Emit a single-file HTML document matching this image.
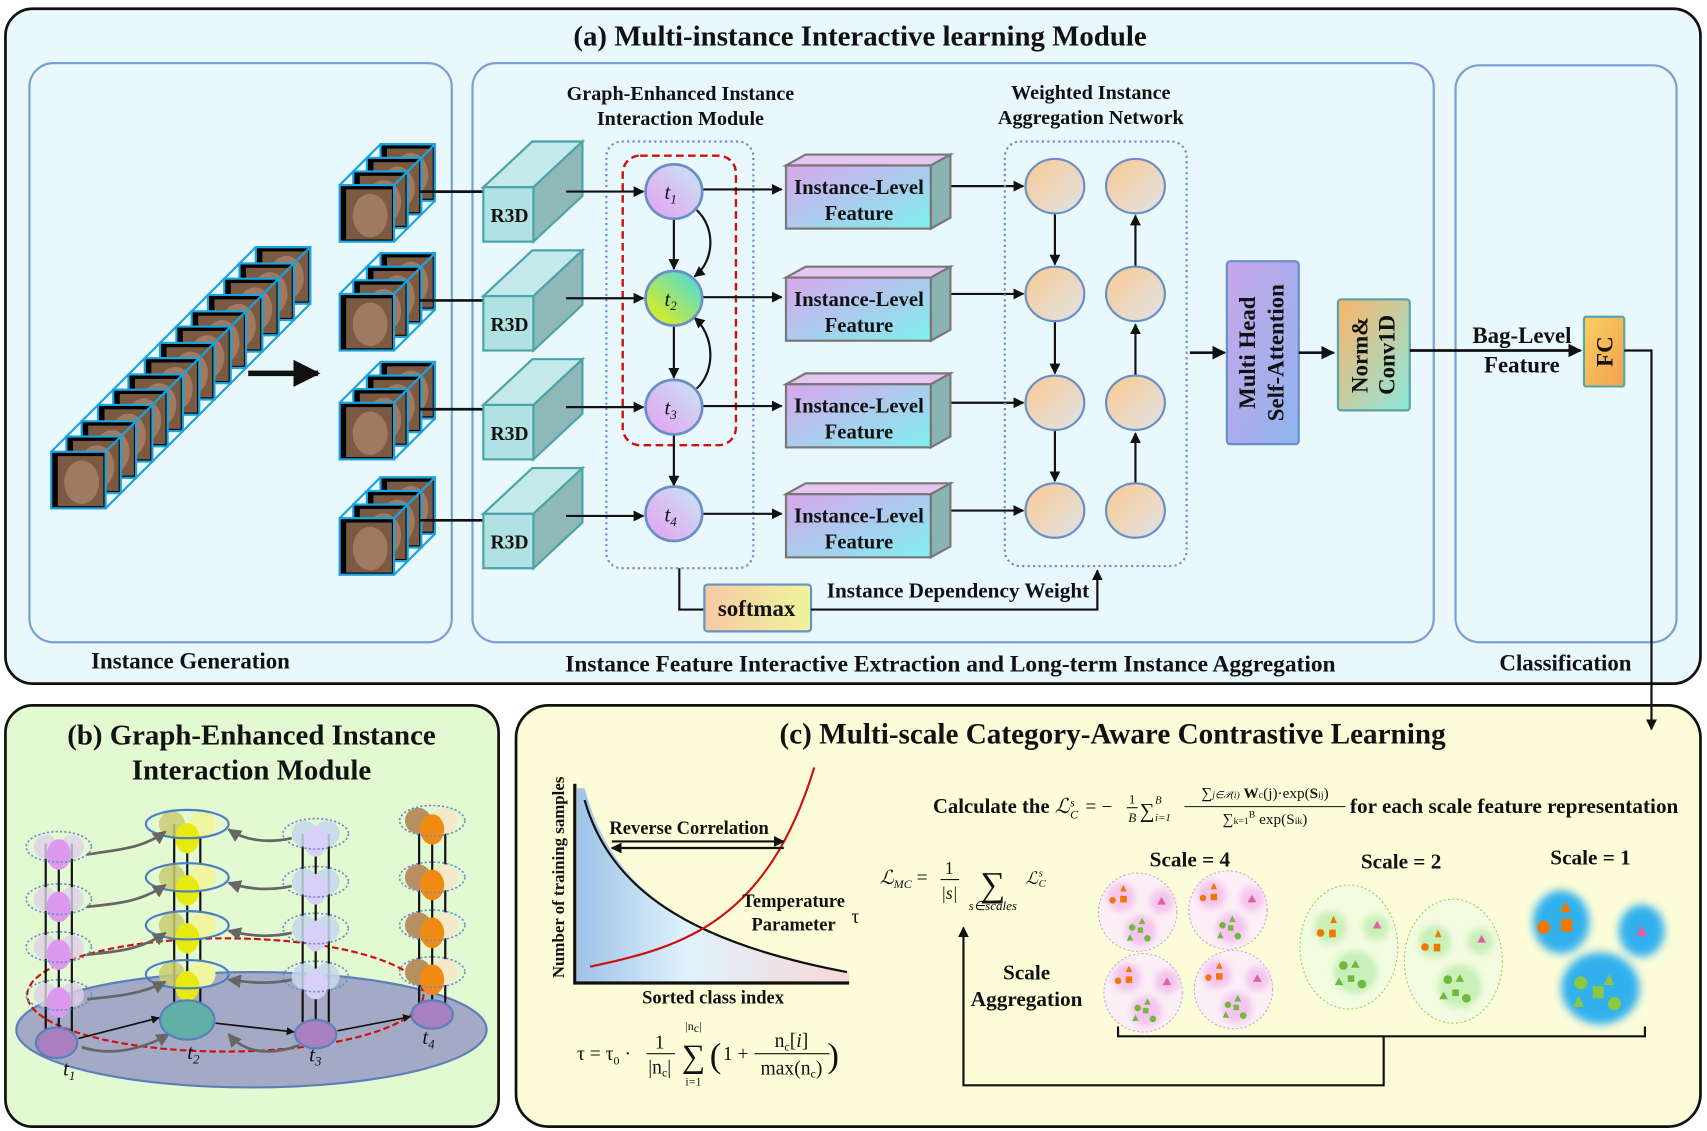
<!DOCTYPE html>
<html><head><meta charset="utf-8"><style>
html,body{margin:0;padding:0;background:#fff}
svg{display:block}
text{font-family:"Liberation Serif",serif;font-weight:bold;fill:#111}
.it{font-style:italic;font-weight:normal}
.n{font-weight:normal}
</style></head><body>
<svg width="1707" height="1131" viewBox="0 0 1568 1039" preserveAspectRatio="none" xmlns="http://www.w3.org/2000/svg">
<defs>
<marker id="ar" viewBox="0 0 10 10" refX="9" refY="5" markerWidth="5" markerHeight="5" orient="auto"><path d="M0,0 L10,5 L0,10z" fill="#111"/></marker>
<marker id="arg" viewBox="0 0 10 10" refX="9" refY="5" markerWidth="5" markerHeight="5" orient="auto"><path d="M0,0 L10,5 L0,10z" fill="#666"/></marker>
<linearGradient id="gnode" x1="0" y1="1" x2="1" y2="0"><stop offset="0" stop-color="#e59ff0"/><stop offset="1" stop-color="#c8e6f5"/></linearGradient>
<linearGradient id="gnode2" x1="0" y1="1" x2="1" y2="0"><stop offset="0" stop-color="#f0f000"/><stop offset="1" stop-color="#40d8f0"/></linearGradient>
<linearGradient id="gfeat" x1="0" y1="0" x2="1" y2="1"><stop offset="0" stop-color="#d9a6ec"/><stop offset="1" stop-color="#7ff0f0"/></linearGradient>
<linearGradient id="gcirc" x1="0" y1="0" x2="1" y2="1"><stop offset="0" stop-color="#fbc98f"/><stop offset="1" stop-color="#dfe3e8"/></linearGradient>
<linearGradient id="gmh" x1="0" y1="0" x2="1" y2="1"><stop offset="0" stop-color="#c9a6ea"/><stop offset="1" stop-color="#8fb4ee"/></linearGradient>
<linearGradient id="gnorm" x1="0" y1="0" x2="1" y2="1"><stop offset="0" stop-color="#fbb36a"/><stop offset="1" stop-color="#8ce8dc"/></linearGradient>
<linearGradient id="gfc" x1="0" y1="0" x2="1" y2="1"><stop offset="0" stop-color="#f8d060"/><stop offset="1" stop-color="#f5a050"/></linearGradient>
<linearGradient id="gsm" x1="0" y1="0" x2="1" y2="0"><stop offset="0" stop-color="#f7c9a5"/><stop offset="1" stop-color="#eef59a"/></linearGradient>
<linearGradient id="gchart" x1="0" y1="0" x2="1" y2="0"><stop offset="0" stop-color="#9ec2e8"/><stop offset="0.4" stop-color="#dff2fb"/><stop offset="1" stop-color="#f7d8d8"/></linearGradient>
<filter id="bl" x="-50%" y="-50%" width="200%" height="200%"><feGaussianBlur stdDeviation="4"/></filter>
<filter id="bl2" x="-50%" y="-50%" width="200%" height="200%"><feGaussianBlur stdDeviation="3"/></filter>
<g id="frame"><rect width="50" height="52" fill="#000" stroke="#1aa3e0" stroke-width="2"/><rect x="6" y="4" width="42" height="46" fill="#7a5a42"/><ellipse cx="28" cy="28" rx="16" ry="20" fill="#a07a60"/></g>
<g id="cs">
<use href="#frame" x="37.5" y="-37.5"/><use href="#frame" x="25" y="-25"/><use href="#frame" x="12.5" y="-12.5"/><use href="#frame" x="0" y="0"/>
<path d="M0,0 L37.5,-37.5 L87.5,-37.5 L87.5,14.5 L50,52 M50,0 L87.5,-37.5" fill="none" stroke="#1aa3e0" stroke-width="2"/>
</g>
<g id="r3d">
<path d="M444,172 L489,130 L535,130 L490,172z" fill="#c3e9ea" stroke="#4aa3a8" stroke-width="2"/>
<path d="M490,172 L535,130 L535,180 L490,222z" fill="#8fb8b8" stroke="#4aa3a8" stroke-width="2"/>
<rect x="444" y="172" width="46" height="50" fill="#b0e2e4" stroke="#4aa3a8" stroke-width="2"/>
<text x="468" y="204" font-size="18" text-anchor="middle">R3D</text>
</g>
<g id="feat">
<path d="M722,152 L740,142 L873,142 L855,152z" fill="#e6c6f0" stroke="#777" stroke-width="2"/>
<path d="M855,152 L873,142 L873,200 L855,210z" fill="#8ab4b4" stroke="#777" stroke-width="2"/>
<rect x="722" y="152" width="133" height="58" fill="url(#gfeat)" stroke="#777" stroke-width="2"/>
<text x="789" y="178" font-size="19" text-anchor="middle">Instance-Level</text>
<text x="789" y="202" font-size="19" text-anchor="middle">Feature</text>
</g>
</defs>

<!-- Panel a -->
<rect x="5" y="8" width="1557" height="620" rx="25" fill="#e8f8fc" stroke="#111" stroke-width="2.5"/>
<text x="790" y="42" font-size="26.5" text-anchor="middle">(a) Multi-instance Interactive learning Module</text>
<rect x="27" y="58" width="388" height="532" rx="22" fill="none" stroke="#7a9fd0" stroke-width="2"/>
<rect x="434" y="58" width="883" height="532" rx="22" fill="none" stroke="#7a9fd0" stroke-width="2"/>
<rect x="1337" y="60" width="203" height="530" rx="22" fill="none" stroke="#7a9fd0" stroke-width="2"/>
<text x="175" y="614" font-size="21" text-anchor="middle">Instance Generation</text>
<text x="873" y="617" font-size="21.5" text-anchor="middle">Instance Feature Interactive Extraction and Long-term Instance Aggregation</text>
<text x="1438" y="616" font-size="21" text-anchor="middle">Classification</text>

<!-- long stack -->
<g>
<use href="#frame" x="235" y="227"/><use href="#frame" x="220" y="242"/><use href="#frame" x="206" y="256"/><use href="#frame" x="191" y="271"/><use href="#frame" x="176" y="286"/><use href="#frame" x="162" y="300"/><use href="#frame" x="147" y="315"/><use href="#frame" x="133" y="329"/><use href="#frame" x="118" y="344"/><use href="#frame" x="104" y="358"/><use href="#frame" x="90" y="372"/><use href="#frame" x="75" y="387"/><use href="#frame" x="61" y="401"/><use href="#frame" x="47" y="415"/>
<path d="M47,415 L235,227 L285,227 L285,279 L97,467 M97,415 L285,227" fill="none" stroke="#1aa3e0" stroke-width="2"/>
</g>
<line x1="228" y1="343" x2="292" y2="343" stroke="#111" stroke-width="5" marker-end="url(#ar)"/>

<!-- small stacks -->
<use href="#cs" x="312" y="170"/>
<use href="#cs" x="312" y="270"/>
<use href="#cs" x="312" y="370"/>
<use href="#cs" x="312" y="476"/>
<g stroke="#111" stroke-width="2.5">
<line x1="385" y1="176" x2="444" y2="176"/><line x1="385" y1="276" x2="444" y2="276"/><line x1="385" y1="376" x2="444" y2="376"/><line x1="385" y1="478" x2="444" y2="478"/>
</g>
<use href="#r3d"/><use href="#r3d" y="100"/><use href="#r3d" y="200"/><use href="#r3d" y="300"/>

<text x="625" y="92" font-size="18.5" text-anchor="middle">Graph-Enhanced Instance</text>
<text x="625" y="115" font-size="18.5" text-anchor="middle">Interaction Module</text>
<text x="1002" y="91" font-size="18.5" text-anchor="middle">Weighted Instance</text>
<text x="1002" y="114" font-size="18.5" text-anchor="middle">Aggregation Network</text>

<rect x="557" y="130" width="135" height="392" rx="14" fill="none" stroke="#6a8fc8" stroke-width="2" stroke-dasharray="2,3"/>
<rect x="572" y="143" width="104" height="266" rx="16" fill="none" stroke="#cc1111" stroke-width="2.2" stroke-dasharray="7,4"/>

<g stroke="#111" stroke-width="2" fill="none">
<line x1="520" y1="176" x2="591" y2="176" marker-end="url(#ar)"/>
<line x1="520" y1="274" x2="591" y2="274" marker-end="url(#ar)"/>
<line x1="520" y1="374" x2="591" y2="374" marker-end="url(#ar)"/>
<line x1="520" y1="474" x2="591" y2="474" marker-end="url(#ar)"/>
<line x1="619" y1="200" x2="619" y2="247" marker-end="url(#ar)"/>
<line x1="619" y1="298" x2="619" y2="347" marker-end="url(#ar)"/>
<line x1="619" y1="398" x2="619" y2="446" marker-end="url(#ar)"/>
<path d="M640,193 C658,210 656,240 638,254" marker-end="url(#ar)"/>
<path d="M640,357 C658,340 656,308 638,292" marker-end="url(#ar)"/>
<line x1="645" y1="174" x2="718" y2="174" marker-end="url(#ar)"/>
<line x1="645" y1="273" x2="718" y2="273" marker-end="url(#ar)"/>
<line x1="645" y1="373" x2="718" y2="373" marker-end="url(#ar)"/>
<line x1="645" y1="472" x2="718" y2="472" marker-end="url(#ar)"/>
<line x1="873" y1="171" x2="940" y2="171" marker-end="url(#ar)"/>
<line x1="873" y1="270" x2="940" y2="270" marker-end="url(#ar)"/>
<line x1="873" y1="370" x2="940" y2="370" marker-end="url(#ar)"/>
<line x1="873" y1="469" x2="940" y2="469" marker-end="url(#ar)"/>
</g>
<g stroke="#6a8fc8" stroke-width="2.5">
<ellipse cx="619" cy="176" rx="26" ry="25" fill="url(#gnode)"/>
<ellipse cx="619" cy="274" rx="26" ry="25" fill="url(#gnode2)"/>
<ellipse cx="619" cy="374" rx="26" ry="25" fill="url(#gnode)"/>
<ellipse cx="619" cy="472" rx="26" ry="25" fill="url(#gnode)"/>
</g>
<g font-size="19" text-anchor="middle">
<text x="616" y="183" class="it">t<tspan font-size="12" dy="4">1</tspan></text>
<text x="616" y="281" class="it">t<tspan font-size="12" dy="4">2</tspan></text>
<text x="616" y="381" class="it">t<tspan font-size="12" dy="4">3</tspan></text>
<text x="616" y="479" class="it">t<tspan font-size="12" dy="4">4</tspan></text>
</g>
<use href="#feat"/><use href="#feat" y="103"/><use href="#feat" y="201"/><use href="#feat" y="302"/>

<rect x="923" y="130" width="167" height="390" rx="14" fill="none" stroke="#6a8fc8" stroke-width="2" stroke-dasharray="2,3"/>
<g stroke="#111" stroke-width="2">
<line x1="969" y1="196" x2="969" y2="243" marker-end="url(#ar)"/>
<line x1="969" y1="295" x2="969" y2="343" marker-end="url(#ar)"/>
<line x1="969" y1="395" x2="969" y2="442" marker-end="url(#ar)"/>
<line x1="1043" y1="444" x2="1043" y2="398" marker-end="url(#ar)"/>
<line x1="1043" y1="345" x2="1043" y2="298" marker-end="url(#ar)"/>
<line x1="1043" y1="245" x2="1043" y2="198" marker-end="url(#ar)"/>
</g>
<g stroke="#6a8fc8" stroke-width="2" fill="url(#gcirc)">
<ellipse cx="969" cy="171" rx="27" ry="25"/><ellipse cx="969" cy="270" rx="27" ry="25"/><ellipse cx="969" cy="370" rx="27" ry="25"/><ellipse cx="969" cy="469" rx="27" ry="25"/>
<ellipse cx="1043" cy="171" rx="27" ry="25"/><ellipse cx="1043" cy="270" rx="27" ry="25"/><ellipse cx="1043" cy="370" rx="27" ry="25"/><ellipse cx="1043" cy="469" rx="27" ry="25"/>
</g>

<line x1="1093" y1="324" x2="1125" y2="324" stroke="#111" stroke-width="2.5" marker-end="url(#ar)"/>
<rect x="1127" y="240" width="66" height="168" rx="3" fill="url(#gmh)" stroke="#6a8fc8" stroke-width="2"/>
<text transform="translate(1153,324) rotate(-90)" font-size="21" text-anchor="middle">Multi Head</text>
<text transform="translate(1179,324) rotate(-90)" font-size="21" text-anchor="middle">Self-Attention</text>
<line x1="1193" y1="324" x2="1225" y2="324" stroke="#111" stroke-width="2.5" marker-end="url(#ar)"/>
<rect x="1229" y="275" width="66" height="102" rx="3" fill="url(#gnorm)" stroke="#5aa3a8" stroke-width="2"/>
<text transform="translate(1256,326) rotate(-90)" font-size="21" text-anchor="middle">Norm&amp;</text>
<text transform="translate(1281,326) rotate(-90)" font-size="21" text-anchor="middle">Conv1D</text>
<line x1="1295" y1="322" x2="1452" y2="322" stroke="#111" stroke-width="2.5" marker-end="url(#ar)"/>
<text x="1398" y="315" font-size="21" text-anchor="middle">Bag-Level</text>
<text x="1398" y="342" font-size="21" text-anchor="middle">Feature</text>
<rect x="1455" y="291" width="37" height="64" rx="2" fill="url(#gfc)" stroke="#5aa3a8" stroke-width="2"/>
<text transform="translate(1481,323) rotate(-90)" font-size="21" text-anchor="middle">FC</text>

<polyline points="624,522 624,560 647,560" fill="none" stroke="#111" stroke-width="2"/>
<rect x="647" y="537" width="98" height="43" rx="3" fill="url(#gsm)" stroke="#6a8fc8" stroke-width="2"/>
<text x="695" y="566" font-size="21" text-anchor="middle">softmax</text>
<polyline points="745,560 1008,560 1008,524" fill="none" stroke="#111" stroke-width="2" marker-end="url(#ar)"/>
<text x="880" y="549" font-size="19.5" text-anchor="middle">Instance Dependency Weight</text>

<!-- Panel b -->
<rect x="5" y="648" width="453" height="387" rx="25" fill="#e2f9d2" stroke="#111" stroke-width="2.5"/>
<text x="231" y="684" font-size="26.5" text-anchor="middle">(b) Graph-Enhanced Instance</text>
<text x="231" y="716" font-size="26.5" text-anchor="middle">Interaction Module</text>
<ellipse cx="231" cy="946" rx="216" ry="53" fill="#a4aac6" stroke="#5b7fb8" stroke-width="2"/>
<ellipse cx="207" cy="914" rx="182" ry="52" fill="none" stroke="#cc1111" stroke-width="2" stroke-dasharray="6,3"/>
<g stroke="#111" stroke-width="2">
<line x1="42" y1="775" x2="42" y2="955"/><line x1="54" y1="775" x2="54" y2="955"/><line x1="66" y1="775" x2="66" y2="955"/>
<line x1="160" y1="757" x2="160" y2="935"/><line x1="172" y1="757" x2="172" y2="935"/><line x1="184" y1="757" x2="184" y2="935"/>
<line x1="278" y1="766" x2="278" y2="948"/><line x1="290" y1="766" x2="290" y2="948"/><line x1="302" y1="766" x2="302" y2="948"/>
<line x1="385" y1="752" x2="385" y2="930"/><line x1="397" y1="752" x2="397" y2="930"/><line x1="409" y1="752" x2="409" y2="930"/>
</g>
<g>
<g fill="#e0d0e8" opacity="0.8"><circle cx="42" cy="778" r="11"/><circle cx="66" cy="778" r="11"/><circle cx="42" cy="826" r="11"/><circle cx="66" cy="826" r="11"/><circle cx="42" cy="870" r="11"/><circle cx="66" cy="870" r="11"/><circle cx="42" cy="914" r="11"/><circle cx="66" cy="914" r="11"/></g>
<g fill="#dd99ee"><ellipse cx="54" cy="785" rx="11" ry="14"/><ellipse cx="54" cy="833" rx="11" ry="14"/><ellipse cx="54" cy="877" rx="11" ry="14"/><ellipse cx="54" cy="921" rx="11" ry="14"/></g>
<g fill="none" stroke="#6a8fc8" stroke-width="1.5" stroke-dasharray="2,2"><ellipse cx="54" cy="778" rx="30" ry="14"/><ellipse cx="54" cy="826" rx="30" ry="14"/><ellipse cx="54" cy="870" rx="30" ry="14"/><ellipse cx="54" cy="914" rx="30" ry="14"/></g>
</g>
<g>
<g fill="#c9cc70" opacity="0.85"><circle cx="158" cy="757" r="12"/><circle cx="158" cy="806" r="12"/><circle cx="158" cy="850" r="12"/><circle cx="158" cy="895" r="12"/></g>
<g fill="#f0f5a0"><circle cx="186" cy="757" r="12"/><circle cx="186" cy="806" r="12"/><circle cx="186" cy="850" r="12"/><circle cx="186" cy="895" r="12"/></g>
<g fill="#e6ea10"><ellipse cx="172" cy="770" rx="11" ry="14"/><ellipse cx="172" cy="818" rx="11" ry="14"/><ellipse cx="172" cy="862" rx="11" ry="14"/><ellipse cx="172" cy="906" rx="11" ry="14"/></g>
<g fill="none" stroke="#4a7fc0" stroke-width="2"><ellipse cx="172" cy="757" rx="38" ry="13"/><ellipse cx="172" cy="806" rx="38" ry="13"/><ellipse cx="172" cy="850" rx="38" ry="13"/><ellipse cx="172" cy="895" rx="38" ry="13"/></g>
</g>
<g>
<g fill="#c8d8ee" opacity="0.85"><circle cx="280" cy="766" r="12"/><circle cx="300" cy="766" r="12"/><circle cx="280" cy="810" r="12"/><circle cx="300" cy="810" r="12"/><circle cx="280" cy="853" r="12"/><circle cx="300" cy="853" r="12"/><circle cx="280" cy="897" r="12"/><circle cx="300" cy="897" r="12"/></g>
<g fill="#d8d0f8"><ellipse cx="290" cy="773" rx="11" ry="14"/><ellipse cx="290" cy="817" rx="11" ry="14"/><ellipse cx="290" cy="860" rx="11" ry="14"/><ellipse cx="290" cy="904" rx="11" ry="14"/></g>
<g fill="none" stroke="#6a8fc8" stroke-width="1.5" stroke-dasharray="2,2"><ellipse cx="290" cy="766" rx="30" ry="14"/><ellipse cx="290" cy="810" rx="30" ry="14"/><ellipse cx="290" cy="853" rx="30" ry="14"/><ellipse cx="290" cy="897" rx="30" ry="14"/></g>
</g>
<g>
<g fill="#b89060"><circle cx="384" cy="754" r="12"/><circle cx="384" cy="806" r="12"/><circle cx="384" cy="850" r="12"/><circle cx="384" cy="893" r="12"/></g>
<g fill="#f5e8c8"><circle cx="408" cy="754" r="12"/><circle cx="408" cy="806" r="12"/><circle cx="408" cy="850" r="12"/><circle cx="408" cy="893" r="12"/></g>
<g fill="#f08a10"><ellipse cx="397" cy="762" rx="11" ry="14"/><ellipse cx="397" cy="813" rx="11" ry="14"/><ellipse cx="397" cy="857" rx="11" ry="14"/><ellipse cx="397" cy="900" rx="11" ry="14"/></g>
<g fill="none" stroke="#6a8fc8" stroke-width="1.5" stroke-dasharray="2,2"><ellipse cx="397" cy="754" rx="30" ry="14"/><ellipse cx="397" cy="806" rx="30" ry="14"/><ellipse cx="397" cy="850" rx="30" ry="14"/><ellipse cx="397" cy="893" rx="30" ry="14"/></g>
</g>
<g fill="none" stroke="#666" stroke-width="2.5">
<path d="M80,785 C110,780 130,780 152,764" marker-end="url(#arg)"/>
<path d="M80,833 C110,830 130,828 152,813" marker-end="url(#arg)"/>
<path d="M80,877 C110,874 130,872 152,857" marker-end="url(#arg)"/>
<path d="M80,918 C110,915 130,913 152,902" marker-end="url(#arg)"/>
<path d="M268,770 C245,775 225,772 210,762" marker-end="url(#arg)"/>
<path d="M268,814 C245,819 225,816 210,811" marker-end="url(#arg)"/>
<path d="M268,857 C245,862 225,859 210,855" marker-end="url(#arg)"/>
<path d="M268,900 C245,905 225,902 210,900" marker-end="url(#arg)"/>
<path d="M75,962 C100,970 130,965 155,950" marker-end="url(#arg)"/>
<path d="M275,960 C250,970 225,968 210,950" marker-end="url(#arg)"/>
</g>
<ellipse cx="52" cy="958" rx="19" ry="14" fill="#a880c0" stroke="#5b7fb8" stroke-width="2"/>
<ellipse cx="172" cy="937" rx="25" ry="18" fill="#60b0a8" stroke="#5b7fb8" stroke-width="2"/>
<ellipse cx="290" cy="950" rx="19" ry="13" fill="#a880c0" stroke="#5b7fb8" stroke-width="2"/>
<ellipse cx="397" cy="932" rx="19" ry="13" fill="#a880c0" stroke="#5b7fb8" stroke-width="2"/>
<g stroke="#111" stroke-width="1.5">
<line x1="72" y1="954" x2="146" y2="935" marker-end="url(#ar)"/>
<line x1="198" y1="940" x2="270" y2="948" marker-end="url(#ar)"/>
<line x1="310" y1="947" x2="377" y2="934" marker-end="url(#ar)"/>
</g>
<g font-size="19">
<text x="58" y="988" class="it">t<tspan font-size="12" dy="4">1</tspan></text>
<text x="172" y="973" class="it">t<tspan font-size="12" dy="4">2</tspan></text>
<text x="284" y="975" class="it">t<tspan font-size="12" dy="4">3</tspan></text>
<text x="388" y="959" class="it">t<tspan font-size="12" dy="4">4</tspan></text>
</g>

<!-- Panel c -->
<rect x="474" y="648" width="1088" height="387" rx="30" fill="#fcfdd8" stroke="#111" stroke-width="2.5"/>
<text x="1022" y="683" font-size="26.8" text-anchor="middle">(c) Multi-scale Category-Aware Contrastive Learning</text>
<polyline points="1492,322 1517,322 1517,670" fill="none" stroke="#111" stroke-width="2" marker-end="url(#ar)"/>
<path d="M530,724 L537,724 C560,810 620,862 780,893 L780,902 L530,902z" fill="url(#gchart)"/>
<path d="M537,735 C560,815 630,865 778,893" fill="none" stroke="#111" stroke-width="2"/>
<path d="M542,888 C630,870 705,845 748,705" fill="none" stroke="#cc1111" stroke-width="2"/>
<polyline points="528,720 528,903 780,903" fill="none" stroke="#111" stroke-width="3"/>
<text transform="translate(518,806) rotate(-90)" font-size="15.5" text-anchor="middle">Number of training samples</text>
<text x="655" y="922" font-size="17" text-anchor="middle">Sorted class index</text>
<text x="633" y="766" font-size="17" text-anchor="middle">Reverse Correlation</text>
<line x1="562" y1="773" x2="720" y2="773" stroke="#111" stroke-width="2" marker-end="url(#ar)"/>
<line x1="720" y1="779" x2="562" y2="779" stroke="#111" stroke-width="2" marker-end="url(#ar)"/>
<text x="729" y="833" font-size="17" text-anchor="middle">Temperature</text>
<text x="729" y="855" font-size="17" text-anchor="middle">Parameter</text>
<text x="782" y="848" font-size="18" class="n">τ</text>
<g font-size="18" class="n">
<text x="530" y="974" class="n">τ = τ<tspan font-size="11" dy="4">0</tspan><tspan dy="-4"> ·</tspan></text>
<text x="606" y="963" class="n" text-anchor="middle">1</text>
<line x1="594" y1="968" x2="620" y2="968" stroke="#111"/>
<text x="606" y="986" class="n" text-anchor="middle">|n<tspan font-size="11" dy="3">c</tspan><tspan dy="-3">|</tspan></text>
<text x="637" y="980" class="n" font-size="30" text-anchor="middle">∑</text>
<text x="637" y="946" class="n" font-size="11" text-anchor="middle">|n<tspan dy="2">c</tspan><tspan dy="-2">|</tspan></text>
<text x="637" y="997" class="n" font-size="11" text-anchor="middle">i=1</text>
<text x="652" y="980" class="n" font-size="32">(</text>
<text x="664" y="974" class="n">1 +</text>
<text x="727" y="962" class="n" text-anchor="middle">n<tspan font-size="11" dy="3">c</tspan><tspan dy="-3">[</tspan><tspan font-style="italic">i</tspan>]</text>
<line x1="693" y1="968" x2="762" y2="968" stroke="#111"/>
<text x="727" y="987" class="n" text-anchor="middle">max(n<tspan font-size="11" dy="3">c</tspan><tspan dy="-3">)</tspan></text>
<text x="760" y="980" class="n" font-size="32">)</text>
</g>
<text x="857" y="747" font-size="19">Calculate the <tspan class="it">ℒ</tspan></text>
<text x="983" y="741" font-size="11" class="it">s</text><text x="983" y="752" font-size="11" class="it">C</text>
<text x="997" y="747" font-size="18" class="n">= −</text>
<text x="1040" y="738" font-size="12" class="n" text-anchor="middle">1</text><line x1="1035" y1="742" x2="1045" y2="742" stroke="#111"/><text x="1040" y="755" font-size="12" class="it" text-anchor="middle">B</text>
<text x="1047" y="751" font-size="19" class="n">∑</text><text x="1061" y="738" font-size="10" class="it">B</text><text x="1061" y="754" font-size="10" class="it">i=1</text>
<text x="1162" y="733" font-size="14" class="n" text-anchor="middle">∑<tspan font-size="9" font-style="italic">j∈𝒫(i)</tspan> <tspan font-weight="bold">W</tspan><tspan font-size="9">c</tspan>(j)·exp(<tspan font-weight="bold">S</tspan><tspan font-size="9">ij</tspan>)</text>
<line x1="1088" y1="741" x2="1236" y2="741" stroke="#111"/>
<text x="1162" y="757" font-size="14" class="n" text-anchor="middle">∑<tspan font-size="9">k=1</tspan><tspan font-size="9" dy="-6">B</tspan><tspan dy="6"> exp(S</tspan><tspan font-size="9">ik</tspan>)</text>
<text x="1240" y="747" font-size="19.5">for each scale feature representation</text>
<text x="808" y="812" font-size="18" class="it">ℒ<tspan font-size="11" dy="4">MC</tspan><tspan dy="-4" font-style="normal"> =</tspan></text>
<text x="872" y="803" font-size="16" class="n" text-anchor="middle">1</text><line x1="864" y1="808" x2="881" y2="808" stroke="#111"/><text x="872" y="826" font-size="16" class="it" text-anchor="middle">|s|</text>
<text x="912" y="823" font-size="32" class="n" text-anchor="middle">∑</text>
<text x="912" y="836" font-size="12" class="it" text-anchor="middle">s∈scales</text>
<text x="942" y="812" font-size="16" class="it">ℒ</text><text x="954" y="805" font-size="10" class="it">s</text><text x="954" y="815" font-size="10" class="it">C</text>
<text x="943" y="900" font-size="19.5" text-anchor="middle">Scale</text>
<text x="943" y="924" font-size="19.5" text-anchor="middle">Aggregation</text>
<text x="1093" y="796" font-size="19.5" text-anchor="middle">Scale = 4</text>
<text x="1287" y="798" font-size="19.5" text-anchor="middle">Scale = 2</text>
<text x="1461" y="794" font-size="19.5" text-anchor="middle">Scale = 1</text>
<g id="s4">
<ellipse cx="1045" cy="838" rx="36" ry="36" fill="#fbeef5" stroke="#c8a8d8" stroke-dasharray="2,2"/>
<g fill="#f4c4ee" filter="url(#bl2)"><circle cx="1030" cy="824" r="13"/><circle cx="1067" cy="828" r="11"/><circle cx="1048" cy="855" r="14"/></g>
<circle cx="1022" cy="827" r="3" fill="#f07800"/><rect x="1029" y="823" width="6" height="6" fill="#f07800"/><path d="M1032,813 l3,6 h-6z" fill="#f07800"/><path d="M1067,824 l4,7 h-8z" fill="#e060a0"/>
<g fill="#70b840"><circle cx="1040" cy="852" r="3"/><rect x="1045" y="852" width="5" height="5"/><path d="M1049,843 l3,6 h-6z"/><path d="M1038,858 l3,6 h-6z"/><circle cx="1054" cy="862" r="3"/></g>
</g>
<use href="#s4" x="83" y="-2"/><use href="#s4" x="5" y="74"/><use href="#s4" x="88" y="71"/>
<g id="s2">
<ellipse cx="1239" cy="870" rx="45" ry="57" fill="#f3fbe0" stroke="#9ad070" stroke-dasharray="2,2"/>
<g fill="#c8f0b8" filter="url(#bl2)"><circle cx="1222" cy="852" r="15"/><circle cx="1264" cy="852" r="12"/><circle cx="1245" cy="893" r="20"/></g>
<circle cx="1213" cy="857" r="3.5" fill="#f07800"/><rect x="1221" y="854" width="6" height="7" fill="#f07800"/><path d="M1225,841 l3,7 h-6z" fill="#f07800"/><path d="M1265,846 l4,7 h-8z" fill="#e060a0"/>
<g fill="#70b840"><circle cx="1234" cy="887" r="4"/><path d="M1245,882 l4,7 h-8z"/><rect x="1238" y="896" width="6" height="6"/><path d="M1230,898 l4,7 h-8z"/><circle cx="1251" cy="904" r="4"/></g>
</g>
<use href="#s2" x="96" y="13"/>
<g fill="#30b0ee" filter="url(#bl)"><ellipse cx="1434" cy="847" rx="26" ry="29"/><ellipse cx="1508" cy="855" rx="21" ry="24"/><ellipse cx="1470" cy="908" rx="36" ry="33"/></g>
<circle cx="1418" cy="852" r="6" fill="#f07800"/><rect x="1434" y="844" width="10" height="12" fill="#f07800"/><path d="M1438,828 l5,10 h-10z" fill="#f07800"/><path d="M1508,850 l5,10 h-10z" fill="#e060a0"/>
<g fill="#8ac840"><circle cx="1452" cy="903" r="6"/><path d="M1478,895 l5,10 h-10z"/><rect x="1463" y="906" width="10" height="11"/><path d="M1450,915 l5,10 h-10z"/><circle cx="1483" cy="922" r="6"/></g>
<path d="M1027,943 L1027,952 L1511,952 L1511,943 M1271,952 L1271,997 L885,997 L885,852" fill="none" stroke="#111" stroke-width="2" marker-end="url(#ar)"/>
</svg>
</body></html>
